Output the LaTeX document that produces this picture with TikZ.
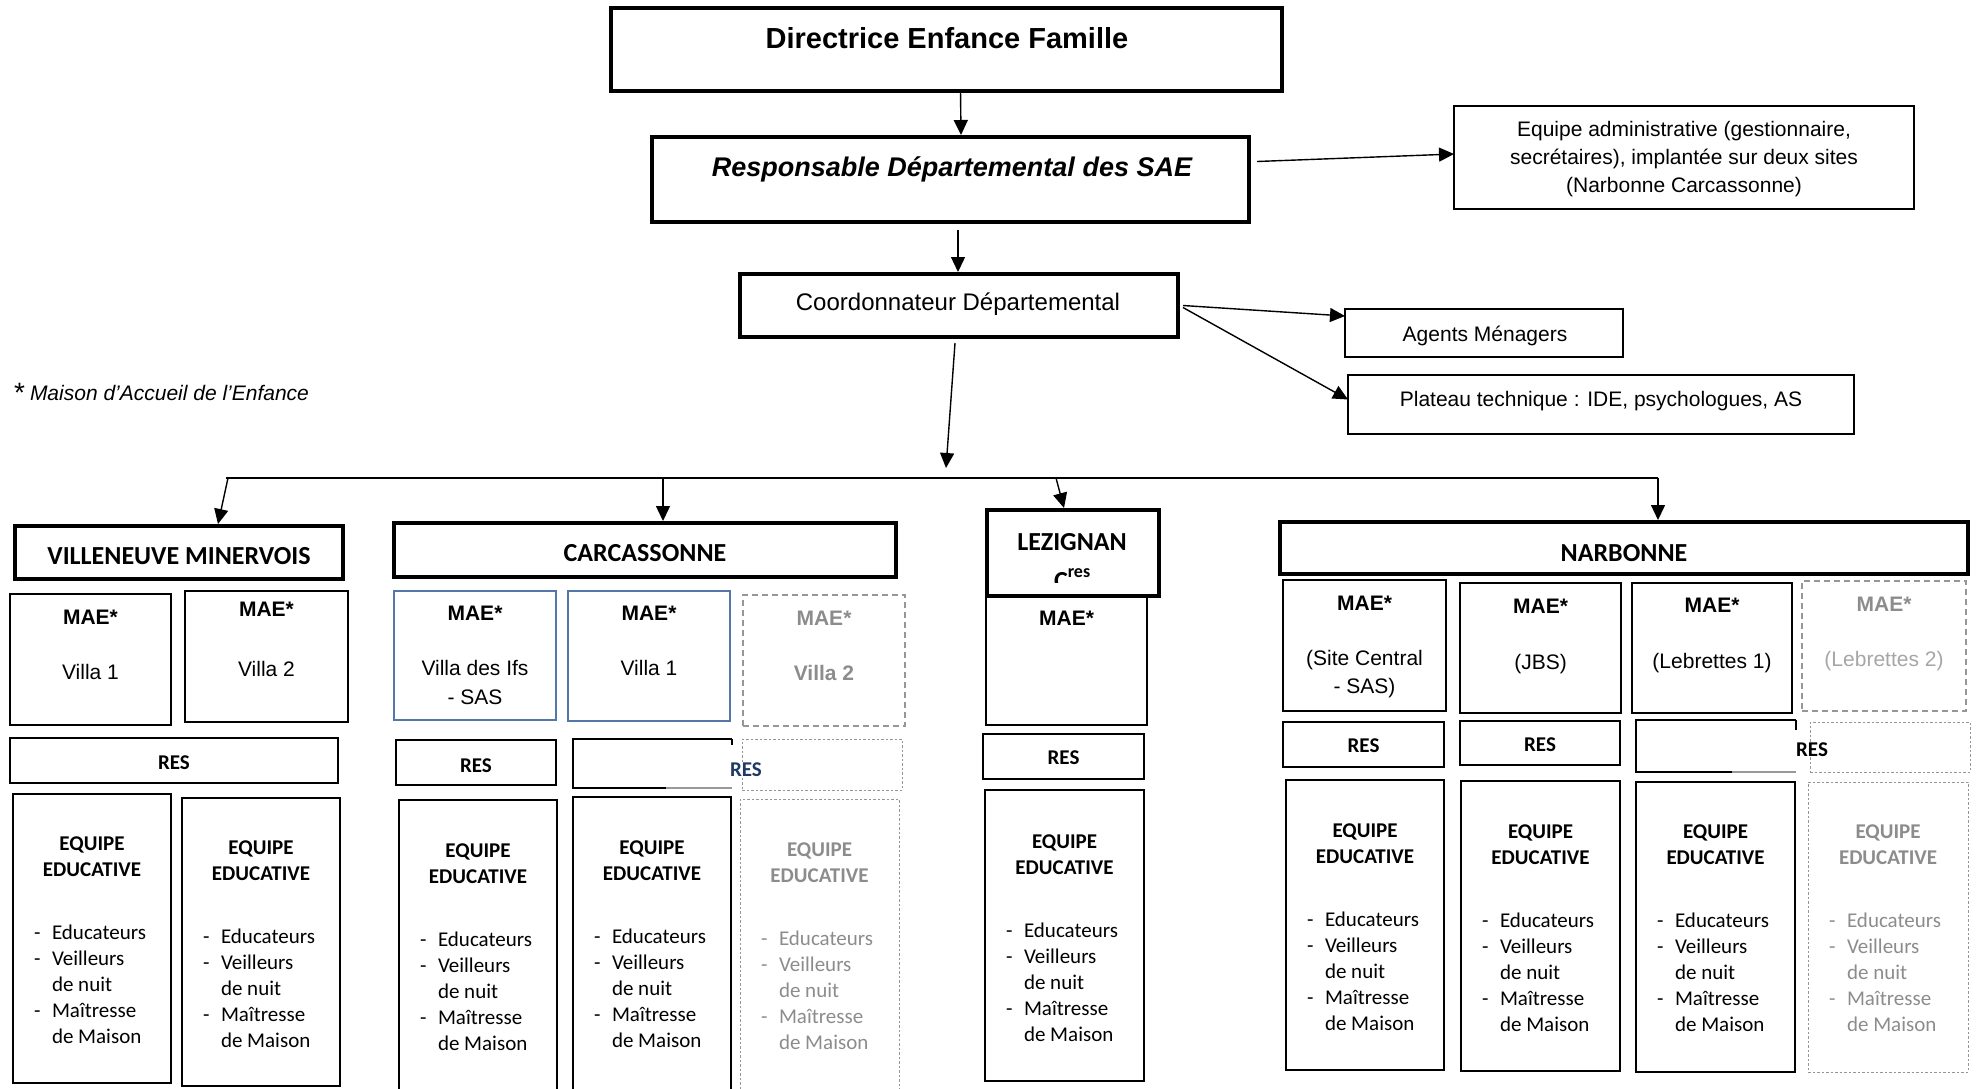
\documentclass[tikz,border=0pt]{standalone}
\usepackage{fontspec}
\setmainfont{Liberation Sans}
\newfontfamily\calfont{Carlito}
\usetikzlibrary{arrows.meta,calc}

\definecolor{boxblue}{RGB}{84,118,168}
\definecolor{ghostline}{RGB}{150,150,150}
\definecolor{ghosttext}{RGB}{140,140,140}
\definecolor{navy}{RGB}{31,56,100}

\tikzset{
  base/.style={rectangle, inner sep=0pt, outer sep=0pt},
  heavy/.style={base, draw, line width=4pt},
  plain/.style={base, draw, line width=1.2pt},
  bluish/.style={base, draw=boxblue, line width=1.2pt},
  ghostbox/.style={base, draw=ghostline, line width=1.1pt, dash pattern=on 6pt off 4pt},
  ghostfine/.style={base, draw=ghostline, line width=1pt, dash pattern=on 2.5pt off 2pt},
  lbl/.style={inner sep=0pt, outer sep=0pt, text depth=0pt},
  ar21/.style={lbl, font=\fontsize{21}{26}\selectfont, text height=15pt},
  ar21b/.style={lbl, font=\fontsize{21}{26}\selectfont\bfseries, text height=15pt},
  ca21/.style={lbl, font=\calfont\fontsize{21}{26}\selectfont, text height=13.5pt},
  ca21b/.style={lbl, font=\calfont\fontsize{21}{26}\selectfont\bfseries, text height=13.5pt},
  ca26b/.style={lbl, font=\calfont\fontsize{26}{31}\selectfont\bfseries, text height=17pt},
  arr/.style={line width=1.4pt, -{Triangle[length=15pt,width=14pt]}},
  busline/.style={line width=2pt},
}

% box node from its corners: name, style, x1, y1, x2, y2
\newcommand\mkbox[6]{%
  \node[#2, minimum width={(#5)-(#3)}, minimum height={(#6)-(#4)}]
    (#1) at ({((#3)+(#5))/2},{((#4)+(#6))/2}) {};}

% team box: name, style, x1, y1, x2, y2, y of first title line, text colour
\newcommand\equipe[8]{%
  \mkbox{#1}{#2}{#3}{#4}{#5}{#6}
  \node[ca21b,text=#8] (#1-t1) at ({((#3)+(#5))/2},{#7+1}) {EQUIPE};
  \node[ca21b,text=#8] (#1-t2) at ({((#3)+(#5))/2},{#7+27}) {EDUCATIVE};
  \node[ca21,text=#8,anchor=west] (#1-d1) at ({#3+21},{#7+90}) {-};
  \node[ca21,text=#8,anchor=west] (#1-i1) at ({#3+39},{#7+90}) {Educateurs};
  \node[ca21,text=#8,anchor=west] (#1-d2) at ({#3+21},{#7+116}) {-};
  \node[ca21,text=#8,anchor=west] (#1-i2) at ({#3+39},{#7+116}) {Veilleurs};
  \node[ca21,text=#8,anchor=west] (#1-i3) at ({#3+39},{#7+142}) {de nuit};
  \node[ca21,text=#8,anchor=west] (#1-d4) at ({#3+21},{#7+168}) {-};
  \node[ca21,text=#8,anchor=west] (#1-i4) at ({#3+39},{#7+168}) {Maîtresse};
  \node[ca21,text=#8,anchor=west] (#1-i5) at ({#3+39},{#7+194}) {de Maison};
}

% house box: name, style, x1, y1, x2, y2, y of title, title colour
\newcommand\mae[8]{%
  \mkbox{#1}{#2}{#3}{#4}{#5}{#6}
  \node[ar21b,text=#8] (#1-t) at ({((#3)+(#5))/2},{#7}) {MAE*};
}

% RES box: name, style, x1, y1, x2, y2, y of label
\newcommand\resbox[7]{%
  \mkbox{#1}{#2}{#3}{#4}{#5}{#6}
  \node[ca21b] (#1-t) at ({((#3)+(#5))/2},{#7+1}) {RES};
}

\begin{document}
\begin{tikzpicture}[x=1pt,y=-1pt]
\useasboundingbox (0,0) rectangle (1977,1088);

% ---------- head of the service ----------
\mkbox{dir}{heavy}{611}{8}{1282}{91}
\node[lbl,font=\fontsize{29}{35}\selectfont\bfseries,text height=21pt] (dir-t) at (947,38) {Directrice Enfance Famille};

\mkbox{resp}{heavy}{652}{137}{1249}{222}
\node[lbl,font=\fontsize{27}{32}\selectfont\bfseries\itshape,text height=19pt] (resp-t) at (952,167) {Responsable Départemental des SAE};

\mkbox{adm}{plain}{1454}{106}{1914}{209}
\node[ar21] (adm-1) at (1684,129) {Equipe administrative (gestionnaire,};
\node[ar21] (adm-2) at (1684,157) {secrétaires), implantée sur deux sites};
\node[ar21] (adm-3) at (1684,185) {(Narbonne Carcassonne)};

\mkbox{coord}{heavy}{740}{274}{1178}{337}
\node[lbl,font=\fontsize{24}{29}\selectfont,text height=17pt] (coord-t) at (958,302) {Coordonnateur Départemental};

\mkbox{agt}{plain}{1345}{309}{1623}{357}
\node[ar21] (agt-t) at (1485,334) {Agents Ménagers};

\mkbox{plt}{plain}{1348}{375}{1854}{434}
\node[ar21] (plt-t) at (1601,399) {Plateau technique : IDE, psychologues, AS};

% footnote
\node[lbl,font=\fontsize{28}{32}\selectfont,text height=20pt] (fn-star) at (19.5,392) {*};
\node[lbl,font=\fontsize{21}{25}\selectfont\itshape,text height=15pt,anchor=west] (fn-t) at (30,393) {Maison d’Accueil de l’Enfance};

% ---------- VILLENEUVE MINERVOIS ----------
\mkbox{vil}{heavy}{15}{526}{343}{579}
\node[ca26b] (vil-t) at (179,556) {VILLENEUVE MINERVOIS};
\mae{vm1}{plain}{10}{594}{171}{725}{617}{black}
\node[ar21] (vm1-s) at (90.5,672) {Villa 1};
\mae{vm2}{plain}{185}{591}{348}{722}{609}{black}
\node[ar21] (vm2-s) at (266.5,669) {Villa 2};
\resbox{vr}{plain}{10}{738}{338}{783}{762}
\equipe{ve1}{plain}{13}{794}{171}{1083}{843}{black}
\equipe{ve2}{plain}{182}{798}{340}{1086}{847}{black}

% ---------- CARCASSONNE ----------
\mkbox{carc}{heavy}{394}{523}{896}{577}
\node[ca26b] (carc-t) at (645,553) {CARCASSONNE};
\mae{cm1}{bluish}{394}{591}{556}{720}{613}{black}
\node[ar21] (cm1-s1) at (475,668) {Villa des Ifs};
\node[ar21] (cm1-s2) at (475,697) {- SAS};
\mae{cm2}{bluish}{568}{591}{730}{721}{613}{black}
\node[ar21] (cm2-s) at (649,668) {Villa 1};
\mae{cm3}{ghostbox}{743}{595}{905}{726}{618}{ghosttext}
\node[ar21b,text=ghosttext] (cm3-s) at (824,673) {Villa 2};
\resbox{cr1}{plain}{396}{740}{556}{785}{765}
% second RES: open frame followed by a dotted frame
\draw[line width=1.2pt] (732,739) -- (573,739) -- (573,788) -- (666,788);
\draw[line width=1.2pt, draw=black!40] (666,788) -- (732,788);
\draw[line width=1.2pt] (732,739) -- (732,745);
\mkbox{cr2}{ghostfine}{742}{739}{902}{790}
\node[ca21b,text=navy,fill=white] (cr2-t) at (746,770) {RES};
\equipe{ce1}{plain}{399}{800}{557}{1098}{850}{black}
\equipe{ce2}{plain}{573}{797}{731}{1098}{847}{black}
\equipe{ce3}{ghostfine}{740}{799}{899}{1098}{849}{ghosttext}

% ---------- LEZIGNAN ----------
\mae{lm}{plain}{986}{596}{1147}{725}{618}{black}
\mkbox{lez}{heavy}{987}{510}{1159}{596}
\node[ca26b] (lez-t) at (1072,542) {LEZIGNAN};
\begin{scope}
  \clip (990,513) rectangle (1156,582);
  \node[ca26b] (lez-c) at (1061,580.5) {C};
  \node[lbl,font=\calfont\fontsize{18}{22}\selectfont\bfseries,text height=9pt] (lez-r) at (1079,573) {res};
\end{scope}
\resbox{lr}{plain}{983}{734}{1144}{779}{757}
\equipe{le}{plain}{985}{790}{1144}{1081}{841}{black}

% ---------- NARBONNE ----------
\mkbox{narb}{heavy}{1280}{522}{1968}{574}
\node[ca26b] (narb-t) at (1624,553) {NARBONNE};
\mae{nm1}{plain}{1283}{580}{1446}{711}{603}{black}
\node[ar21] (nm1-s1) at (1364.5,658) {(Site Central};
\node[ar21] (nm1-s2) at (1364.5,686) {- SAS)};
\mae{nm2}{plain}{1460}{583}{1621}{713}{606}{black}
\node[ar21] (nm2-s) at (1540.5,662) {(JBS)};
\mae{nm3}{plain}{1632}{583}{1792}{713}{605}{black}
\node[ar21] (nm3-s) at (1712,661) {(Lebrettes 1)};
\mae{nm4}{ghostbox}{1802}{581}{1966}{711}{604}{ghosttext}
\node[ar21,text=black!35] (nm4-s) at (1884,659) {(Lebrettes 2)};
\resbox{nr1}{plain}{1283}{722}{1444}{767}{745}
\resbox{nr2}{plain}{1460}{721}{1620}{765}{744}
% third RES: open frame followed by a dotted frame
\draw[line width=1.2pt] (1796,720) -- (1636,720) -- (1636,772) -- (1732,772);
\draw[line width=1.2pt, draw=black!40] (1732,772) -- (1796,772);
\draw[line width=1.2pt] (1796,720) -- (1796,730);
\mkbox{nr3}{ghostfine}{1810}{722}{1970}{772}
\node[ca21b,fill=white] (nr3-t) at (1812,750) {RES};
\equipe{ne1}{plain}{1286}{780}{1444}{1070}{830}{black}
\equipe{ne2}{plain}{1461}{781}{1620}{1071}{831}{black}
\equipe{ne3}{plain}{1636}{782}{1795}{1072}{831}{black}
\equipe{ne4}{ghostfine}{1808}{782}{1968}{1072}{831}{ghosttext}

% ---------- connectors ----------
\draw[arr] ([xshift=14pt]dir.south) -- ([xshift=10.5pt,yshift=2pt]resp.north);
\draw[arr] ([xshift=7.5pt,yshift=-8pt]resp.south) -- ([xshift=-1pt,yshift=2pt]coord.north);
\draw[arr] ([xshift=8pt,yshift=18pt]resp.east) -- ([yshift=3.5pt]adm.west);
\draw[arr] ([xshift=5pt]coord.east) -- ([yshift=17pt]agt.west);
\draw[arr] ([xshift=5pt,yshift=-2pt]coord.east) -- ([yshift=5pt]plt.west);

\coordinate (hub) at (946,468);
\draw[arr] ([xshift=-4pt,yshift=-6pt]coord.south) -- (hub);

\coordinate (busW) at (226,478);
\coordinate (busE) at (1658,478);
\draw[busline] (busW) -- (busE);
\coordinate (b1) at (228,478);
\coordinate (b2) at (663,478);
\coordinate (b3) at (1056,478);
\coordinate (b4) at (1658,478);
\draw[arr] (b1) -- ([xshift=39pt,yshift=2pt]vil.north);
\draw[arr] (b2) -- ([xshift=18pt,yshift=2pt]carc.north);
\draw[arr] (b3) -- ([xshift=-9pt,yshift=2pt]lez.north);
\draw[arr] (b4) -- ([xshift=34pt,yshift=2pt]narb.north);
\end{tikzpicture}
\end{document}
